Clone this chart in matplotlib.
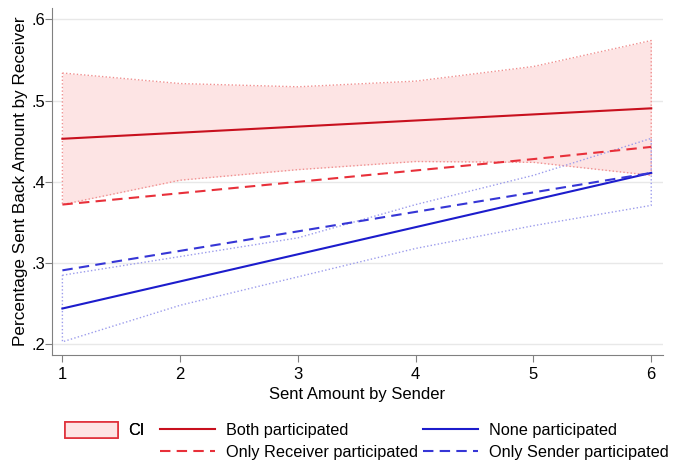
import matplotlib
matplotlib.use("Agg")
import matplotlib.pyplot as plt
from matplotlib.patches import Patch
from matplotlib.lines import Line2D

plt.rcParams['font.family'] = ['Liberation Sans', 'DejaVu Sans']

# values
x = [1, 2, 3, 4, 5, 6]
both = [0.453, 0.4605, 0.468, 0.4755, 0.483, 0.4905]
both_hi = [0.534, 0.521, 0.517, 0.524, 0.542, 0.574]
both_lo = [0.372, 0.402, 0.415, 0.425, 0.424, 0.408]
only_recv = [0.372, 0.386, 0.400, 0.414, 0.428, 0.443]
none = [0.244, 0.2774, 0.3108, 0.3442, 0.3776, 0.411]
none_hi = [0.285, 0.308, 0.331, 0.372, 0.408, 0.4535]
none_lo = [0.203, 0.248, 0.283, 0.318, 0.346, 0.371]
only_send = [0.291, 0.315, 0.339, 0.363, 0.387, 0.411]

yticks = [0.2, 0.3, 0.4, 0.5, 0.6]
ylabels = ['.2', '.3', '.4', '.5', '.6']

RED = '#c8101e'
RED_D = '#e8303a'
BLUE = '#1c1ccc'
BLUE_D = '#3636d6'
PINK = '#fde4e4'

fig = plt.figure(figsize=(6.74, 4.63), dpi=100)
ax = fig.add_axes([0.0772, 0.2333, 0.9065, 0.7494])

# confidence bands
ax.fill_between(x, both_lo, both_hi, color=PINK, lw=0, zorder=1)
ax.plot(x + x[::-1] + [x[0]], both_hi + both_lo[::-1] + [both_hi[0]],
        color='#f09090', lw=1, ls=(0, (1, 1.6)), zorder=2)
ax.plot(x + x[::-1] + [x[0]], none_hi + none_lo[::-1] + [none_hi[0]],
        color='#9c9cec', lw=1, ls=(0, (1, 1.6)), zorder=2)

# fitted lines
ax.plot(x, both, color=RED, lw=1.5, zorder=4)
ax.plot(x, only_recv, color=RED_D, lw=1.5, ls=(0, (5, 3)), zorder=4)
ax.plot(x, none, color=BLUE, lw=1.5, zorder=4)
ax.plot(x, only_send, color=BLUE_D, lw=1.5, ls=(0, (5, 3)), zorder=4)

ax.set_xlim(0.912, 6.10)
ax.set_ylim(0.1868, 0.614)
ax.set_xticks(x)
ax.set_yticks(yticks)
ax.set_yticklabels(ylabels)
ax.grid(axis='y', color='#e8e8e8', lw=1)
ax.set_axisbelow(True)
for s in ['top', 'right']:
    ax.spines[s].set_visible(False)
for s in ['left', 'bottom']:
    ax.spines[s].set_color('#808080')
ax.tick_params(colors='#808080', labelcolor='black', labelsize=12, length=5)
ax.tick_params(axis='y', pad=0)
ax.tick_params(axis='x', pad=4)
ax.set_xlabel('Sent Amount by Sender', fontsize=12, labelpad=3)
ax.set_ylabel('Percentage Sent Back Amount by Receiver', fontsize=12.3, labelpad=2)

# legend, CI box on its own, then the four lines in two columns
leg1 = fig.legend([Patch(facecolor=PINK, edgecolor='#e0303a', lw=1.2)], ['CI'],
                  loc='center left', bbox_to_anchor=(0.0964, 0.0713),
                  frameon=False, fontsize=11.7, handlelength=3.26,
                  handleheight=1.17, handletextpad=0.62,
                  borderpad=0, borderaxespad=0)
handles = [
    Line2D([], [], color=RED, lw=1.5),
    Line2D([], [], color=RED_D, lw=1.5, ls=(0, (5, 3))),
    Line2D([], [], color=BLUE, lw=1.5),
    Line2D([], [], color=BLUE_D, lw=1.5, ls=(0, (5, 3))),
]
labels = ['Both participated', 'Only Receiver participated',
          'None participated', 'Only Sender participated']
fig.legend(handles, labels, ncol=2, loc='center left',
           bbox_to_anchor=(0.2374, 0.0464),
           frameon=False, fontsize=11.7, handlelength=3.38,
           handletextpad=0.7, columnspacing=0.3, labelspacing=0.45,
           borderpad=0, borderaxespad=0)
fig.add_artist(leg1)

fig.savefig('out.png', dpi=100)
